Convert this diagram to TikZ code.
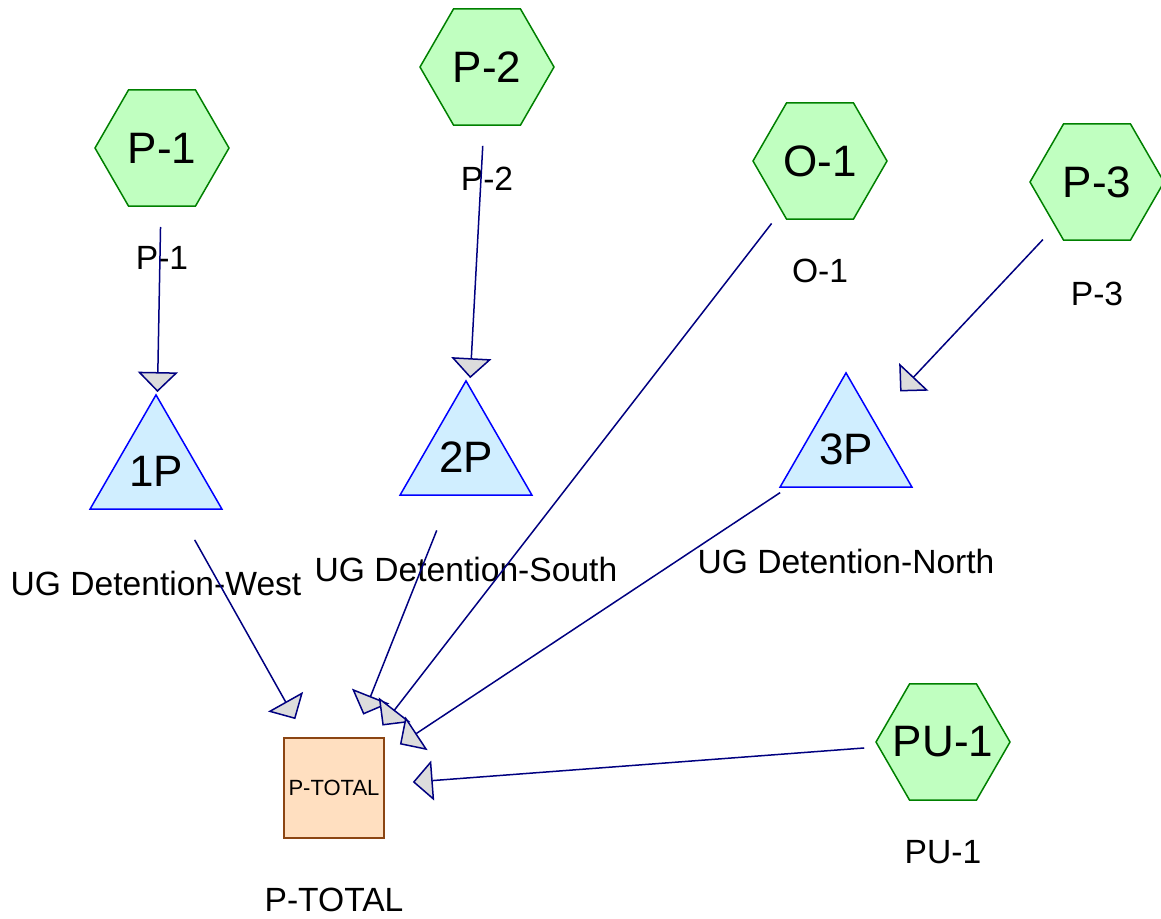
\documentclass[tikz,border=0pt]{standalone}
\usepackage{fontspec}
\setmainfont{Liberation Sans}
\usepackage{tikz}
\usepackage{xcolor}
\usetikzlibrary{shapes.geometric, arrows.meta}

\definecolor{hex-fill}{HTML}{C0FFC0}
\definecolor{hex-line}{HTML}{008000}
\definecolor{tri-fill}{HTML}{D0EEFF}
\definecolor{tri-line}{HTML}{0000FF}
\definecolor{box-fill}{HTML}{FFDFC0}
\definecolor{box-line}{HTML}{8B4513}
\definecolor{link-line}{HTML}{000080}
\definecolor{tip-fill}{HTML}{DCDCDC}

% keeps the hexagons the same size whatever the label width
\newcommand{\hexname}[1]{\makebox[0pt]{#1}}

\tikzset{
    source-hex/.style = {draw=hex-line, fill=hex-fill, line width=0.75pt, regular polygon, regular polygon sides=6, minimum size=67pt, inner sep=0pt, font=\fontsize{22}{24}\selectfont},
    detention-tri/.style = {draw=tri-line, fill=tri-fill, line width=0.75pt, regular polygon, regular polygon sides=3, minimum size=75pt, inner sep=0pt, font=\fontsize{22}{24}\selectfont},
    outfall-box/.style = {draw=box-line, fill=box-fill, line width=1pt, rectangle, minimum size=50pt, inner sep=0pt, font=\fontsize{11}{13}\selectfont},
    node-caption/.style = {inner sep=0pt, font=\fontsize{16.8}{19}\selectfont},
    flow-link/.style = {draw=link-line, line width=0.75pt, shorten <=39.5pt, shorten >=39.5pt, -{Triangle[length=10pt, width=20pt, fill=tip-fill]}},
}

\begin{document}
\begin{tikzpicture}[x=0.5pt, y=-0.5pt]
\useasboundingbox (0,0) rectangle (1161,918);

% sources
\node [source-hex] (p1) at (162,148) {\hexname{P-1}};
\node [source-hex] (p2) at (487,67) {\hexname{P-2}};
\node [source-hex] (o1) at (820,161) {\hexname{O-1}};
\node [source-hex] (p3) at (1097,182) {\hexname{P-3}};
\node [source-hex] (pu1) at (943,742) {\hexname{PU-1}};

% detention units
\node [detention-tri] (ug-west) at (156,471) {1P};
\node [detention-tri] (ug-south) at (466,457) {2P};
\node [detention-tri] (ug-north) at (846,449) {3P};

% outlet
\node [outfall-box] (total) at (334,788) {P-TOTAL};

% captions
\node [node-caption] (p1-cap) at ([yshift=-55pt]p1.center) {P-1};
\node [node-caption] (p2-cap) at ([yshift=-56pt]p2.center) {P-2};
\node [node-caption] (o1-cap) at ([yshift=-55pt]o1.center) {O-1};
\node [node-caption] (p3-cap) at ([yshift=-56pt]p3.center) {P-3};
\node [node-caption] (pu1-cap) at ([yshift=-55pt]pu1.center) {PU-1};
\node [node-caption] (ug-west-cap) at ([yshift=-56pt]ug-west.center) {UG Detention-West};
\node [node-caption] (ug-south-cap) at ([yshift=-56pt]ug-south.center) {UG Detention-South};
\node [node-caption] (ug-north-cap) at ([yshift=-56pt]ug-north.center) {UG Detention-North};
\node [node-caption] (total-cap) at ([yshift=-56pt]total.center) {P-TOTAL};

% links
\draw [flow-link] (p1.center) -- (ug-west.center);
\draw [flow-link] (p2.center) -- (ug-south.center);
\draw [flow-link] (p3.center) -- (ug-north.center);
\draw [flow-link] (ug-west.center) -- (total.center);
\draw [flow-link] (ug-south.center) -- (total.center);
\draw [flow-link] (o1.center) -- (total.center);
\draw [flow-link] (ug-north.center) -- (total.center);
\draw [flow-link] (pu1.center) -- (total.center);
\end{tikzpicture}
\end{document}
